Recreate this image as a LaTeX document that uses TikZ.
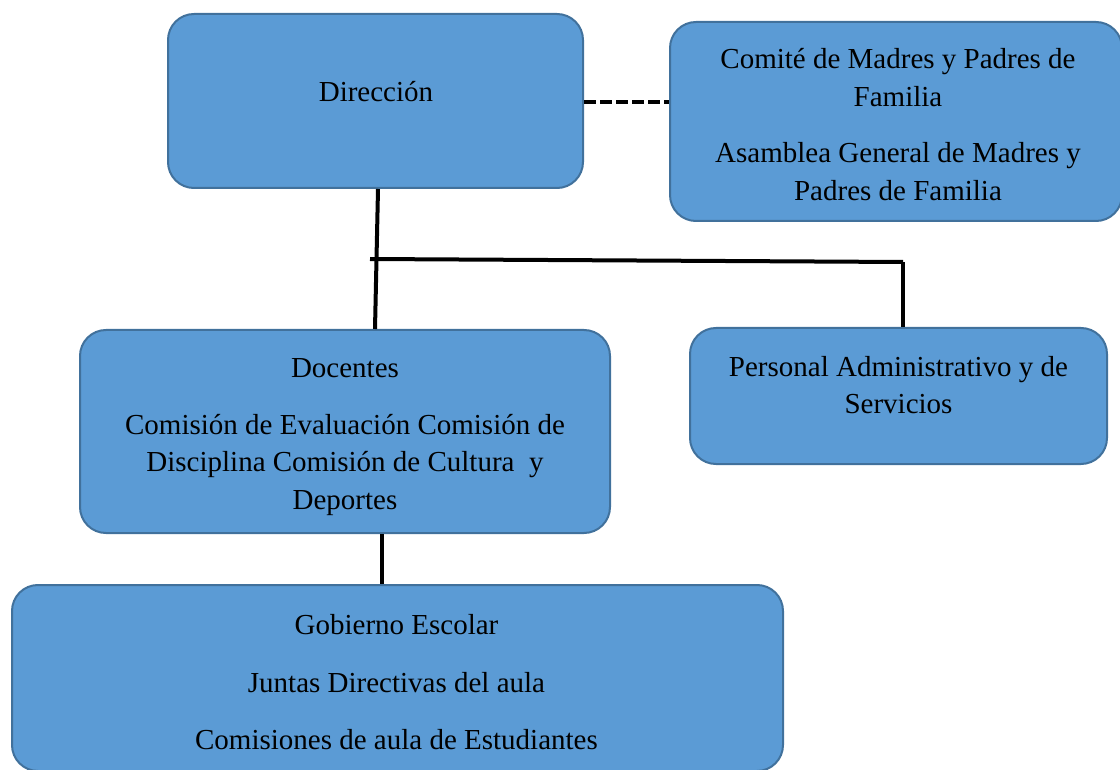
\documentclass[tikz,border=0pt]{standalone}
\usepackage{fontspec}
\setmainfont{Liberation Serif}
\definecolor{boxfill}{HTML}{5B9BD5}
\definecolor{boxline}{HTML}{41719C}
\begin{document}
\begin{tikzpicture}[x=1pt,y=-1pt,
  orgbox/.style={draw=boxline,line width=2pt,fill=boxfill,rounded corners=26pt,inner sep=0pt},
  txt/.style={align=center,font=\fontsize{29}{37.5}\selectfont,inner sep=0pt},
  conn/.style={line width=4pt,black},
  dashconn/.style={line width=4pt,black,dash pattern=on 12pt off 4pt}]
\useasboundingbox (0,0) rectangle (1120,770);
% boxes
\node[orgbox,minimum width=415pt,minimum height=174pt] (dir) at (375.5,101) {};
\node[orgbox,minimum width=452pt,minimum height=199pt] (com) at (896,121.5) {};
\node[orgbox,minimum width=530pt,minimum height=203pt] (doc) at (345,431.5) {};
\node[orgbox,minimum width=417pt,minimum height=136pt] (per) at (898.5,396) {};
\node[orgbox,minimum width=771pt,minimum height=186pt] (gob) at (397.5,678) {};
% texts
\node[txt] (tdir) at (376,92) {Dirección};
\node[txt] (tcom) at (898,124.5) {Comité de Madres y Padres de\\Familia\\[19pt]Asamblea General de Madres y\\Padres de Familia};
\node[txt] (tdoc) at (345,437) {Docentes\\[19pt]Comisión de Evaluación Comisión de\\Disciplina Comisión de Cultura\ \ y\\Deportes};
\node[txt] (tper) at (898.5,385) {Personal Administrativo y de\\Servicios};
\node[txt] (tgob) at (396.5,682.5) {Gobierno Escolar\\[20pt]Juntas Directivas del aula\\[20pt]Comisiones de aula de Estudiantes};
% connectors
\draw[dashconn] (dir.east |- 0,102) -- (com.west |- 0,102);
\draw[conn] ([xshift=2.5pt]dir.south) -- ([xshift=30pt]doc.north);
\coordinate (jl) at (370,259);
\coordinate (jr) at (903,262);
\draw[conn] (jl) -- (jr);
\draw[conn] (jr) -- ([xshift=4.5pt]per.north);
\draw[conn] ([xshift=37pt]doc.south) -- ([xshift=-15.5pt]gob.north);
\end{tikzpicture}
\end{document}
